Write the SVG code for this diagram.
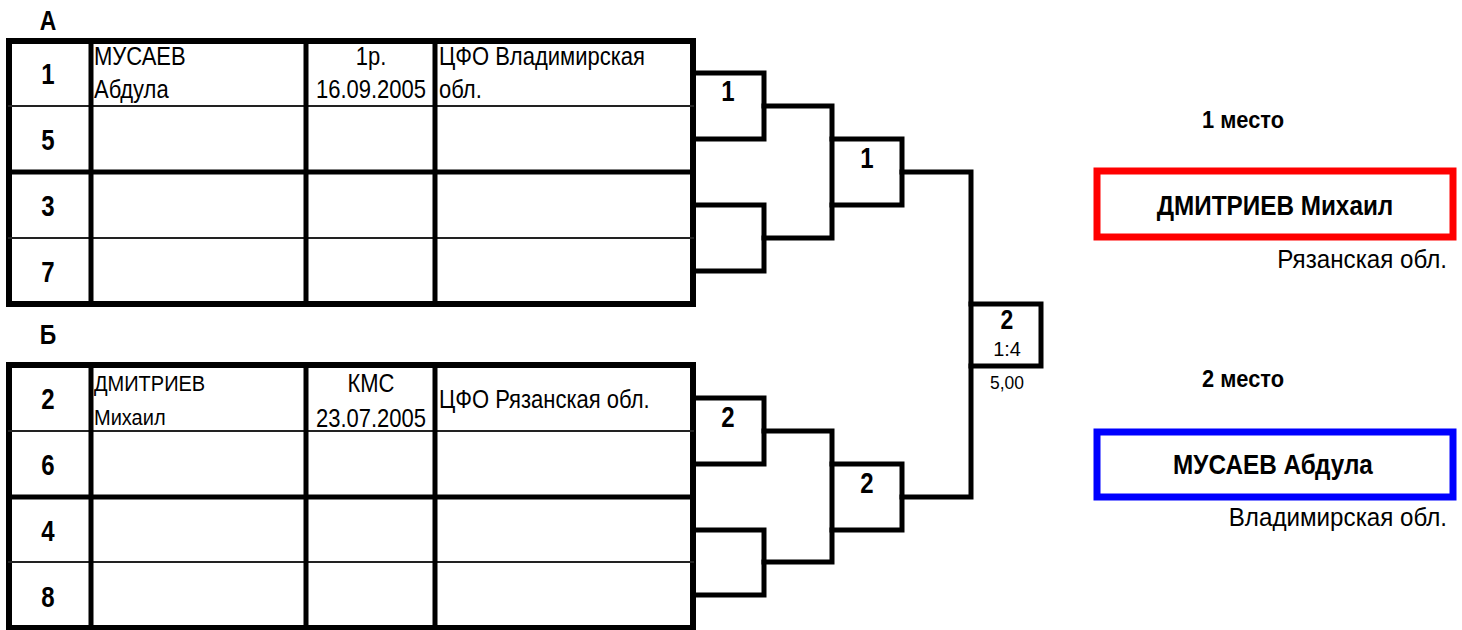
<svg xmlns="http://www.w3.org/2000/svg" width="1462" height="630" viewBox="0 0 1462 630">
<style>
.t{font-family:"Liberation Sans",Arial,sans-serif;fill:#000}
.b{font-weight:bold}
.r{font-size:25px}
.n{font-size:30px;font-weight:bold}
.m{text-anchor:middle}
.e{text-anchor:end}
.ln{fill:none;stroke:#000;stroke-width:5;stroke-linecap:square}
.thin{stroke:#222;stroke-width:2}
.frame{fill:#fff;stroke:#000;stroke-width:6}
</style>
<rect width="1462" height="630" fill="#fff"/>
<g id="tableA">
<text class="t b m" font-size="27" transform="translate(48,30) scale(0.85,1)">А</text>
<rect class="frame" x="9" y="41" width="684" height="263"/>
<line class="ln" x1="9" y1="172" x2="693" y2="172"/>
<line class="ln thin" x1="9" y1="106" x2="693" y2="106"/>
<line class="ln thin" x1="9" y1="238" x2="693" y2="238"/>
<line class="ln" x1="91" y1="41" x2="91" y2="304"/>
<line class="ln" x1="306" y1="41" x2="306" y2="304"/>
<line class="ln" x1="435" y1="41" x2="435" y2="304"/>
<text class="t n m" transform="translate(48,84) scale(0.8,1)">1</text>
<text class="t n m" transform="translate(48,150) scale(0.8,1)">5</text>
<text class="t n m" transform="translate(48,216) scale(0.8,1)">3</text>
<text class="t n m" transform="translate(48,282) scale(0.8,1)">7</text>
<text class="t r" transform="translate(94,65) scale(0.88,1)">МУСАЕВ</text>
<text class="t r" transform="translate(94,98) scale(0.88,1)">Абдула</text>
<text class="t r m" transform="translate(371,65) scale(0.88,1)">1р.</text>
<text class="t r m" transform="translate(371,98) scale(0.88,1)">16.09.2005</text>
<text class="t r" transform="translate(439,65) scale(0.88,1)">ЦФО Владимирская</text>
<text class="t r" transform="translate(439,98) scale(0.88,1)">обл.</text>
</g>
<g id="tableB">
<text class="t b m" font-size="27" transform="translate(48,344) scale(0.85,1)">Б</text>
<rect class="frame" x="9" y="365" width="684" height="263"/>
<line class="ln" x1="9" y1="497" x2="693" y2="497"/>
<line class="ln thin" x1="9" y1="431" x2="693" y2="431"/>
<line class="ln thin" x1="9" y1="562" x2="693" y2="562"/>
<line class="ln" x1="91" y1="365" x2="91" y2="628"/>
<line class="ln" x1="306" y1="365" x2="306" y2="628"/>
<line class="ln" x1="435" y1="365" x2="435" y2="628"/>
<text class="t n m" transform="translate(48,409) scale(0.8,1)">2</text>
<text class="t n m" transform="translate(48,475) scale(0.8,1)">6</text>
<text class="t n m" transform="translate(48,541) scale(0.8,1)">4</text>
<text class="t n m" transform="translate(48,607) scale(0.8,1)">8</text>
<text class="t" font-size="22" transform="translate(94,391) scale(0.91,1)">ДМИТРИЕВ</text>
<text class="t" font-size="22" transform="translate(94,425) scale(0.91,1)">Михаил</text>
<text class="t r m" transform="translate(371,392) scale(0.88,1)">КМС</text>
<text class="t r m" transform="translate(371,427) scale(0.88,1)">23.07.2005</text>
<text class="t r" transform="translate(439,408) scale(0.88,1)">ЦФО Рязанская обл.</text>
</g>
<g id="connectors">
<path class="ln" d="M693,73 H764 V139 H693"/>
<path class="ln" d="M693,205 H764 V271 H693"/>
<path class="ln" d="M764,106 H832 V238 H764"/>
<path class="ln" d="M832,139 H902 V205 H832"/>
<path class="ln" d="M902,172 H971 V497 H902"/>
<path class="ln" d="M971,304 H1041 V366 H971"/>
<path class="ln" d="M693,398 H764 V464 H693"/>
<path class="ln" d="M693,530 H764 V595 H693"/>
<path class="ln" d="M764,431 H832 V562 H764"/>
<path class="ln" d="M832,464 H902 V530 H832"/>
</g>
<g id="bracket-labels">
<text class="t n m" transform="translate(728,101) scale(0.8,1)">1</text>
<text class="t n m" transform="translate(867,168) scale(0.8,1)">1</text>
<text class="t n m" transform="translate(728,427) scale(0.8,1)">2</text>
<text class="t n m" transform="translate(867,493) scale(0.8,1)">2</text>
<text class="t b m" font-size="27" transform="translate(1007,329) scale(0.85,1)">2</text>
<text class="t m" font-size="21" transform="translate(1007,356) scale(0.95,1)">1:4</text>
<text class="t m" font-size="19" transform="translate(1007,389) scale(0.92,1)">5,00</text>
</g>
<g id="first-place">
<text class="t b m" font-size="23" transform="translate(1243,128) scale(0.95,1)">1 место</text>
<rect x="1097" y="171" width="356" height="66" fill="#fff" stroke="#ff0000" stroke-width="7"/>
<text class="t b m" font-size="27" transform="translate(1275,215) scale(0.9,1)">ДМИТРИЕВ Михаил</text>
<text class="t e" font-size="26" transform="translate(1447,268) scale(0.93,1)">Рязанская обл.</text>
</g>
<g id="second-place">
<text class="t b m" font-size="23" transform="translate(1243,387) scale(0.95,1)">2 место</text>
<rect x="1097" y="432" width="356" height="65" fill="#fff" stroke="#0000ff" stroke-width="7"/>
<text class="t b m" font-size="27" transform="translate(1273,474) scale(0.9,1)">МУСАЕВ Абдула</text>
<text class="t e" font-size="26" transform="translate(1447,526) scale(0.93,1)">Владимирская обл.</text>
</g>
</svg>
